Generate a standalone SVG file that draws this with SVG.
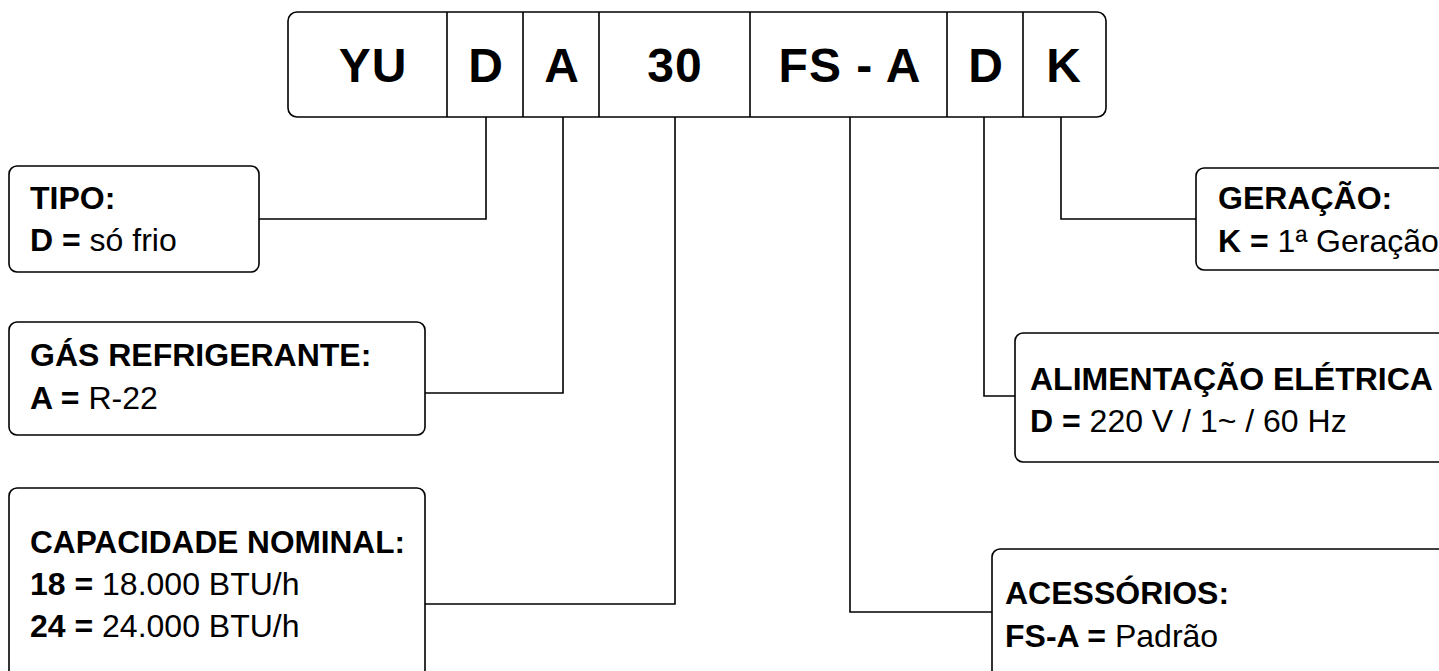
<svg xmlns="http://www.w3.org/2000/svg" width="1439" height="671" viewBox="0 0 1439 671">
<style>
.box{fill:#fff;stroke:#000;stroke-width:1.6}
.ln{fill:none;stroke:#000;stroke-width:1.6}
.code{font-family:"Liberation Sans",Arial,sans-serif;font-weight:bold;font-size:48px;fill:#000;text-anchor:middle;letter-spacing:1px}
.lbl{font-family:"Liberation Sans",Arial,sans-serif;font-size:32px;fill:#000}
.b{font-weight:bold}
</style>
<rect width="1439" height="671" fill="#fff"/>
<g id="code">
<rect class="box" x="288" y="12" width="818" height="105" rx="9"/>
<path class="ln" d="M447 12V117M523 12V117M599 12V117M750 12V117M947 12V117M1023 12V117"/>
<text class="code" x="373" y="82">YU</text>
<text class="code" x="486" y="82">D</text>
<text class="code" x="562" y="82">A</text>
<text class="code" x="675" y="82">30</text>
<text class="code" x="850" y="82">FS - A</text>
<text class="code" x="986" y="82">D</text>
<text class="code" x="1064" y="82">K</text>
</g>
<g id="connectors">
<path class="ln" d="M486 117V219H259"/>
<path class="ln" d="M563 117V393H425"/>
<path class="ln" d="M675 117V604H425"/>
<path class="ln" d="M850 117V612H992"/>
<path class="ln" d="M984 117V396H1015"/>
<path class="ln" d="M1061 117V219H1196"/>
</g>
<g id="tipo">
<rect class="box" x="9" y="166" width="250" height="106" rx="8"/>
<text class="lbl b" x="30" y="209">TIPO:</text>
<text class="lbl" x="30" y="251"><tspan class="b">D =</tspan> só frio</text>
</g>
<g id="gas">
<rect class="box" x="9" y="322" width="416" height="113" rx="8"/>
<text class="lbl b" x="30" y="366">GÁS REFRIGERANTE:</text>
<text class="lbl" x="30" y="409"><tspan class="b">A =</tspan> R-22</text>
</g>
<g id="capacidade">
<rect class="box" x="9" y="488" width="416" height="200" rx="8"/>
<text class="lbl b" x="30" y="553" textLength="375" lengthAdjust="spacingAndGlyphs">CAPACIDADE NOMINAL:</text>
<text class="lbl" x="30" y="595"><tspan class="b">18 =</tspan> 18.000 BTU/h</text>
<text class="lbl" x="30" y="637"><tspan class="b">24 =</tspan> 24.000 BTU/h</text>
</g>
<g id="geracao">
<rect class="box" x="1196" y="168" width="260" height="102" rx="8"/>
<text class="lbl b" x="1218" y="209">GERAÇÃO:</text>
<text class="lbl" x="1218" y="252"><tspan class="b">K =</tspan> 1ª Geração</text>
</g>
<g id="alimentacao">
<rect class="box" x="1015" y="333" width="440" height="129" rx="8"/>
<text class="lbl b" x="1030" y="390">ALIMENTAÇÃO ELÉTRICA</text>
<text class="lbl" x="1030" y="432"><tspan class="b">D =</tspan> 220 V / 1~ / 60 Hz</text>
</g>
<g id="acessorios">
<rect class="box" x="992" y="549" width="460" height="140" rx="8"/>
<text class="lbl b" x="1005" y="604">ACESSÓRIOS:</text>
<text class="lbl" x="1005" y="647"><tspan class="b">FS-A =</tspan> Padrão</text>
</g>
</svg>
